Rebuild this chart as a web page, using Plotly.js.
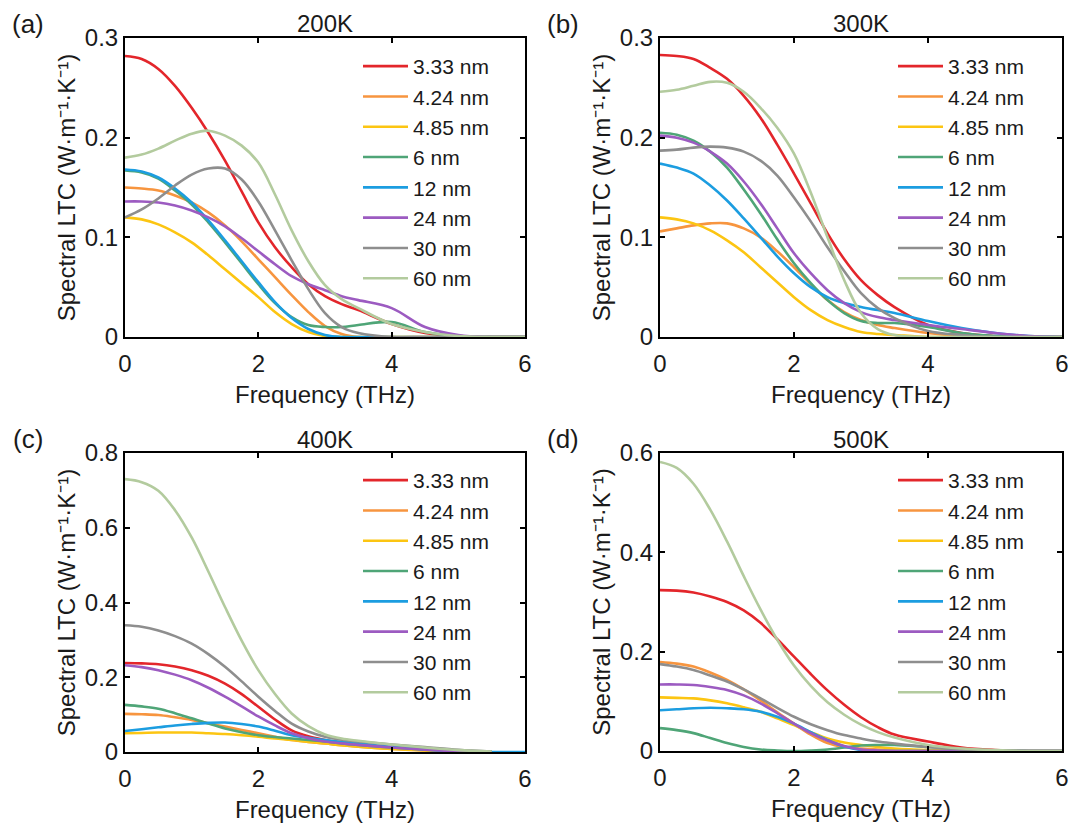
<!DOCTYPE html>
<html><head><meta charset="utf-8">
<script src="https://cdn.plot.ly/plotly-3.0.1.min.js"></script>
<style>html,body{margin:0;padding:0;background:#fff}#chart{width:1072px;height:826px}</style>
</head><body><div id="chart"></div>
<script>
// Frequency grid (THz)
const freq = [0, 0.25, 0.5, 0.75, 1, 1.25, 1.5, 1.75, 2, 2.25, 2.5, 2.75, 3, 3.25, 3.5, 4, 4.5, 5, 5.5, 6];
const sizes = ['3.33 nm', '4.24 nm', '4.85 nm', '6 nm', '12 nm', '24 nm', '30 nm', '60 nm'];
const colors = ['#e3262b', '#f7953f', '#fcc512', '#4fa577', '#1c9de0', '#9c5bc1', '#8e8e8e', '#b3cb9e'];
const temps = ['200K', '300K', '400K', '500K'];
const letters = ['(a)', '(b)', '(c)', '(d)'];

// Spectral LTC (W·m⁻¹·K⁻¹), one row per size (order of `sizes`)
const ltc200K = [
  [.282, .279, .269, .252, .230, .205, .177, .146, .115, .090, .070, .053, .041, .033, .027, .013, .004, .001, 0, 0],
  [.150, .149, .147, .142, .135, .125, .112, .096, .078, .060, .042, .025, .011, .003, 0, 0, 0, 0, 0, 0],
  [.120, .118, .113, .105, .095, .082, .068, .054, .040, .025, .013, .005, .001, 0, 0, 0, 0, 0, 0, 0],
  [.167, .165, .159, .147, .133, .115, .095, .074, .053, .034, .020, .012, .010, .010, .012, .015, .005, .001, 0, 0],
  [.168, .166, .160, .149, .135, .117, .097, .076, .055, .035, .019, .008, .002, 0, 0, 0, 0, 0, 0, 0],
  [.136, .136, .135, .132, .127, .120, .111, .099, .086, .073, .061, .053, .047, .041, .037, .029, .010, .002, 0, 0],
  [.120, .128, .139, .152, .163, .169, .169, .158, .136, .107, .077, .048, .024, .010, .004, 0, 0, 0, 0, 0],
  [.180, .183, .189, .197, .204, .207, .202, .192, .175, .143, .107, .076, .052, .038, .029, .013, .005, .001, 0, 0]
];
const ltc300K = [
  [.283, .282, .279, .270, .259, .242, .220, .193, .164, .134, .104, .078, .057, .042, .030, .012, .004, .001, 0, 0],
  [.106, .109, .112, .114, .114, .109, .100, .086, .070, .053, .037, .025, .017, .012, .009, .004, .001, 0, 0, 0],
  [.120, .118, .114, .107, .097, .085, .070, .055, .040, .027, .017, .010, .005, .003, .002, 0, 0, 0, 0, 0],
  [.205, .203, .197, .186, .170, .148, .124, .098, .074, .054, .037, .024, .016, .014, .014, .010, .004, .001, 0, 0],
  [.174, .170, .164, .152, .137, .119, .100, .081, .064, .050, .040, .034, .030, .027, .024, .016, .009, .004, .001, 0],
  [.202, .200, .195, .186, .174, .156, .134, .109, .084, .064, .047, .034, .025, .020, .017, .012, .008, .004, .001, 0],
  [.187, .188, .190, .191, .190, .186, .177, .162, .140, .116, .090, .066, .044, .029, .019, .006, .002, 0, 0, 0],
  [.246, .248, .252, .256, .255, .246, .230, .210, .184, .145, .100, .057, .024, .008, .002, 0, 0, 0, 0, 0]
];
const ltc400K = [
  [.238, .237, .235, .229, .219, .204, .183, .155, .121, .087, .058, .042, .032, .024, .019, .012, .006, .002, 0, null],
  [.102, .101, .099, .093, .086, .077, .068, .059, .050, .041, .032, .027, .023, .018, .014, .008, .004, .001, 0, null],
  [.050, .051, .052, .052, .052, .050, .048, .045, .041, .036, .032, .027, .023, .018, .014, .008, .004, .001, 0, null],
  [.126, .122, .116, .104, .090, .076, .063, .053, .045, .040, .036, .032, .028, .023, .019, .012, .006, .002, 0, null],
  [.056, .061, .066, .071, .075, .078, .079, .075, .068, .057, .045, .038, .032, .027, .023, .014, .007, .002, 0, 0],
  [.232, .227, .219, .207, .192, .172, .148, .122, .095, .071, .050, .037, .028, .023, .019, .012, .006, .002, 0, null],
  [.339, .335, .325, .310, .290, .262, .228, .189, .148, .110, .076, .055, .041, .033, .028, .020, .013, .006, .001, null],
  [.730, .722, .699, .647, .574, .483, .388, .298, .219, .155, .103, .069, .047, .036, .030, .020, .012, .005, .001, null]
];
const ltc500K = [
  [.324, .323, .319, .311, .300, .283, .258, .225, .190, .155, .122, .093, .068, .048, .033, .019, .007, .002, 0, 0],
  [.179, .176, .170, .158, .143, .124, .102, .078, .055, .033, .016, .008, .005, .003, .002, 0, 0, 0, 0, 0],
  [.108, .107, .106, .102, .096, .088, .079, .066, .052, .038, .025, .017, .012, .008, .005, .002, .001, 0, 0, 0],
  [.046, .042, .036, .026, .016, .008, .003, .001, 0, .001, .003, .007, .011, .012, .012, .008, .004, .001, 0, 0],
  [.082, .084, .086, .087, .086, .084, .079, .069, .055, .038, .022, .009, .002, 0, 0, 0, 0, 0, 0, 0],
  [.134, .134, .133, .129, .123, .112, .096, .076, .055, .036, .021, .010, .003, .001, 0, 0, 0, 0, 0, 0],
  [.175, .170, .163, .152, .140, .124, .106, .087, .069, .054, .042, .032, .025, .019, .015, .008, .003, .001, 0, 0],
  [.582, .570, .538, .486, .422, .352, .285, .224, .172, .131, .098, .073, .053, .038, .027, .012, .005, .002, 0, 0]
];
const panels = [ltc200K, ltc300K, ltc400K, ltc500K];
const yMax = [0.3, 0.3, 0.8, 0.6];
const yStep = [0.1, 0.1, 0.2, 0.2];

const FONT = 'Liberation Sans, Arial, Helvetica, sans-serif';
const W = 1072, H = 826;
// plot-area boxes in pixels [left, right, top, bottom]
const boxes = [[125, 525, 38, 337], [660, 1062, 38, 337], [125, 525, 453, 752], [660, 1062, 453, 751]];
const legendPos = [[358, 46], [893, 46], [358, 460], [893, 460]];

const traces = [];
const layout = {
  width: W, height: H, margin: {l: 0, r: 0, t: 0, b: 0},
  paper_bgcolor: '#fff', plot_bgcolor: '#fff',
  font: {family: FONT, size: 24, color: '#1a1a1a'},
  showlegend: true, annotations: []
};

panels.forEach((rows, p) => {
  const sfx = p === 0 ? '' : String(p + 1);
  const legId = 'legend' + sfx;
  rows.forEach((vals, i) => {
    traces.push({
      x: freq, y: vals, type: 'scatter', mode: 'lines', name: sizes[i],
      xaxis: 'x' + sfx, yaxis: 'y' + sfx, legend: legId,
      line: {color: colors[i], width: 2.6, shape: 'spline', smoothing: 1},
      hoverinfo: 'skip'
    });
  });
  const b = boxes[p];
  const axBase = {
    ticks: 'inside', ticklen: 5, tickwidth: 2, tickcolor: '#000',
    showline: true, linewidth: 2, linecolor: '#000', mirror: 'ticks',
    showgrid: false, zeroline: false, automargin: false, fixedrange: true,
    tickfont: {family: FONT, size: 24, color: '#1a1a1a'}
  };
  layout['xaxis' + sfx] = Object.assign({}, axBase, {
    domain: [b[0] / W, b[1] / W], anchor: 'y' + sfx,
    range: [0, 6], tickvals: [0, 2, 4, 6], ticklabelstandoff: 4,
    title: {text: 'Frequency (THz)', font: {family: FONT, size: 24, color: '#1a1a1a'}, standoff: 10}
  });
  layout['yaxis' + sfx] = Object.assign({}, axBase, {
    domain: [1 - b[3] / H, 1 - b[2] / H], anchor: 'x' + sfx,
    range: [0, yMax[p]], dtick: yStep[p], tick0: 0,
    title: {text: 'Spectral LTC (W·m⁻¹·K⁻¹)', font: {family: FONT, size: 24, color: '#1a1a1a'}, standoff: 2}
  });
  const lp = legendPos[p];
  layout[legId] = {
    x: lp[0] / W, y: 1 - lp[1] / H, xanchor: 'left', yanchor: 'top',
    bgcolor: 'rgba(0,0,0,0)', borderwidth: 0,
    font: {family: FONT, size: 21, color: '#1a1a1a'}, itemwidth: 45
  };
  layout.annotations.push({
    text: temps[p], xref: 'paper', yref: 'paper', x: (b[0] + b[1]) / 2 / W, y: 1 - (b[2] - 14) / H,
    xanchor: 'center', yanchor: 'middle', showarrow: false, font: {family: FONT, size: 24, color: '#1a1a1a'}
  });
  layout.annotations.push({
    text: letters[p], xref: 'paper', yref: 'paper', x: (b[0] - 97) / W, y: 1 - (b[2] - 14) / H,
    xanchor: 'center', yanchor: 'middle', showarrow: false, font: {family: FONT, size: 26, color: '#1a1a1a'}
  });
});

Plotly.newPlot('chart', traces, layout, {staticPlot: true, displayModeBar: false});
</script></body></html>
